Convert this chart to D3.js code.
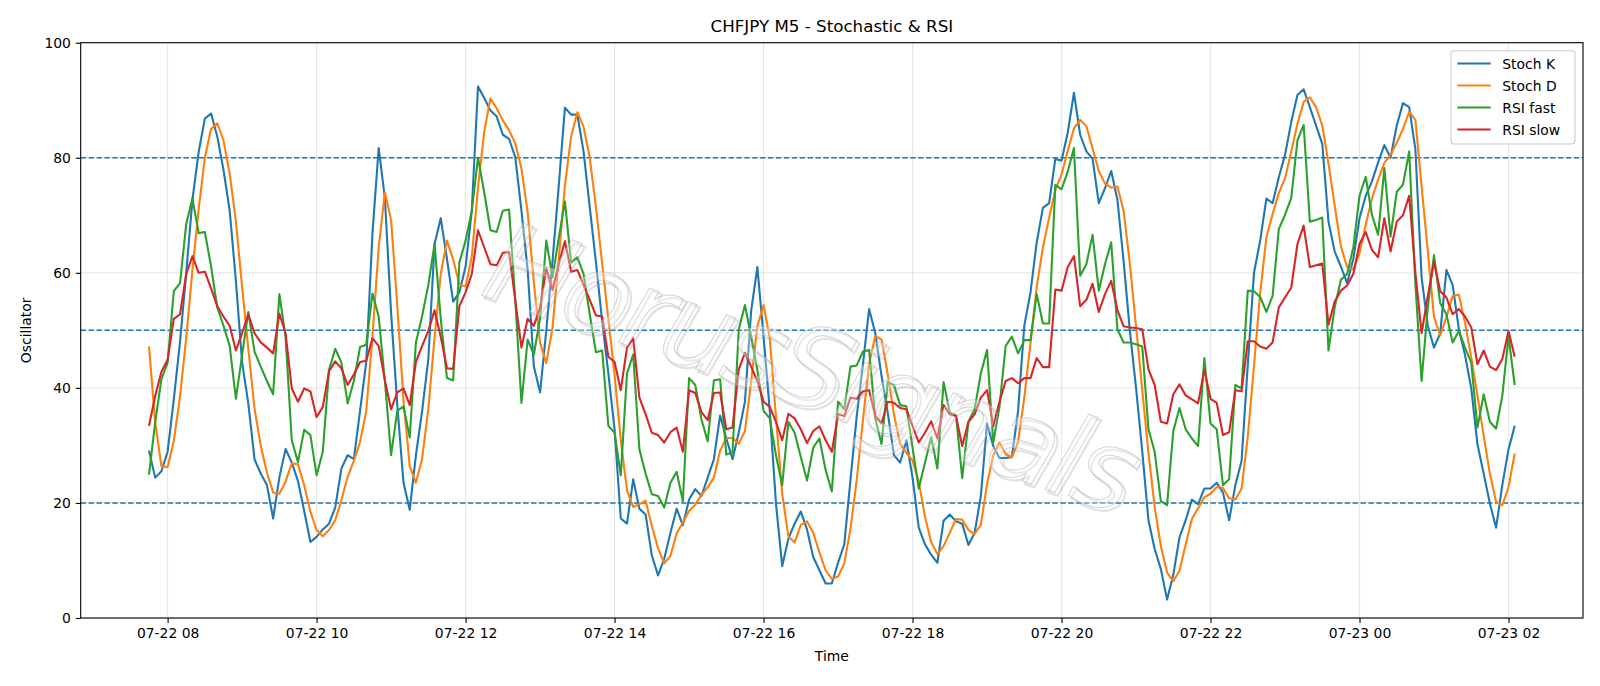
<!DOCTYPE html>
<html>
<head>
<meta charset="utf-8">
<script src="https://cdn.jsdelivr.net/npm/d3@7"></script>
<style>
  body { margin: 0; background: #fff; }
  text { font-family: "DejaVu Sans", sans-serif; }
</style>
</head>
<body>
<div id="chart"></div>
<script>
// M5 bars, 07-22 07:45 -> 07-23 02:05
const barStart = Date.UTC(2025, 6, 22, 7, 45);
const barMinutes = 5;

const stochK = [
  29.1, 24.4, 25.5, 28.9, 38, 48, 60, 72.7, 81, 86.8,
  87.7, 83.7, 77.9, 70.8, 58.6, 44.4, 37.3, 27.6, 25.1, 23.1,
  17.3, 24.4, 29.4, 27, 23.8, 18.6, 13.2, 14.1, 15.4, 16.4,
  19.2, 26, 28.3, 27.6, 36, 44.5, 66.9, 81.7, 73, 53,
  37, 23.5, 18.8, 28.3, 36, 45, 65, 69.5, 62.4, 55,
  56.6, 61.1, 70.8, 92.4, 90.4, 88.2, 87.2, 84, 83.3, 80.1,
  70.8, 60.5, 43.7, 39.2, 50, 62, 75, 88.7, 87.5, 87.5,
  81.1, 71.4, 61.8, 51.5, 42.5, 32.8, 17.3, 16.4, 24.1, 19,
  18, 10.9, 7.4, 10.3, 14.8, 19, 16.1, 20.6, 22.4, 21.2,
  24.4, 27.6, 35.2, 31.2, 27.6, 32.2, 37.6, 53.4, 61, 48.9,
  36, 19.9, 9, 13.8, 16.4, 18.5, 15.4, 10.6, 8.3, 6,
  6, 9.6, 12.8, 24, 35, 44, 53.7, 49.5, 42.1, 35.7,
  28.3, 27, 30.9, 24.4, 15.7, 12.8, 11, 9.6, 16.9, 18,
  16.8, 16.4, 12.7, 14.8, 21.2, 33.8, 29.9, 27.8, 27.8, 28,
  36, 50.8, 56.6, 65.3, 71.3, 72.1, 79.8, 79.5, 84.4, 91.3,
  84, 81.1, 79.8, 72.1, 74.7, 77.7, 72.7, 62, 50, 40,
  29, 17, 12, 8.5, 3.2, 7.5, 14, 17, 20.6, 19.8,
  22.5, 22.5, 23.5, 21.8, 17, 23.1, 27.3, 44, 60, 65.6,
  72.9, 72.1, 76.6, 80.5, 86.2, 90.9, 91.9, 88.8, 85.6, 82.4,
  68.9, 63.7, 61.1, 58.2, 62.4, 69.5, 73.4, 75.9, 79.2, 82.2,
  80, 85.6, 89.5, 88.8, 81.5, 59.2, 50.8, 47, 49.5, 60.5,
  57.9, 50.2, 45.7, 39.9, 30.2, 25.1, 19.9, 15.7, 23.1, 29.3,
  33.4
];

const stochD = [
  47.2, 34, 26.4, 26.2, 30.8, 38.5, 48.7, 60.5, 71, 80,
  85, 86, 83, 77.2, 69, 57.5, 46.8, 36.4, 30, 25.3,
  21.8, 21.6, 23.7, 26.9, 26.7, 23.1, 18.5, 15.3, 14.2, 15.3,
  17, 20.5, 24.5, 27.3, 30.6, 36, 49, 64.4, 74, 69.2,
  54.3, 37.8, 26.4, 23.5, 27.7, 36.4, 48.7, 59.8, 65.6, 62.3,
  58, 57.6, 62.8, 74.8, 84.5, 90.3, 88.6, 86.5, 84.8, 82.5,
  78.1, 70.5, 58.3, 47.8, 44.3, 50.4, 62.3, 75.2, 83.7, 87.9,
  85.4, 80, 71.4, 61.6, 51.9, 42.3, 30.9, 22.2, 19.3, 19.8,
  20.4, 16, 12.1, 9.5, 10.8, 14.7, 16.6, 18.6, 19.7, 21.4,
  22.7, 24.4, 29.1, 31.3, 31.3, 30.3, 32.5, 41.1, 50.7, 54.4,
  48.6, 34.9, 21.6, 14.2, 13.1, 16.2, 16.8, 14.8, 11.4, 8.3,
  6.8, 7.2, 9.5, 15.5, 23.9, 34.3, 44.2, 49, 48.4, 42.4,
  35.4, 30.3, 28.7, 27.4, 23.7, 17.6, 13.2, 11.1, 12.5, 14.8,
  17.2, 17.1, 15.3, 14.6, 16.2, 23.3, 28.3, 30.5, 28.5, 27.9,
  30.6, 38.3, 47.8, 57.6, 64.4, 69.6, 74.4, 77.1, 81.2, 85.1,
  86.6, 85.5, 81.6, 77.7, 75.5, 74.8, 75, 70.8, 61.6, 50.7,
  39.7, 28.7, 19.3, 12.5, 7.9, 6.4, 8.2, 12.8, 17.2, 19.1,
  21, 21.6, 22.8, 22.6, 20.8, 20.6, 22.5, 31.5, 43.8, 56.5,
  66.2, 70.2, 73.9, 76.4, 81.1, 85.9, 89.7, 90.5, 88.8, 85.6,
  79, 71.7, 64.6, 61, 60.6, 63.4, 68.4, 72.9, 76.2, 79.1,
  80.5, 82.6, 85, 88, 86.6, 75, 63.8, 52.3, 49.1, 52.3,
  56, 56.2, 51.3, 45.3, 38.6, 31.7, 25.1, 20.2, 19.6, 22.7,
  28.6
];

const rsiFast = [
  24.9, 34, 41.5, 44.4, 56.8, 58.2, 68.5, 72.9, 66.9, 67.1,
  61.1, 54, 50.8, 47.3, 38.1, 45.7, 53.2, 46.3, 43.7, 41.2,
  38.9, 56.3, 48.9, 30.9, 27.1, 32.7, 31.8, 24.8, 28.9, 43.1,
  46.8, 44.4, 37.3, 41.2, 47.1, 47.5, 56.4, 52.4, 41.2, 28.3,
  36, 36.8, 31.4, 47.9, 52.5, 57.9, 65, 52, 41.7, 41.3,
  61.8, 65.6, 70.8, 80, 74, 67.4, 67.1, 70.8, 71, 55.3,
  37.4, 48.4, 45.8, 52.1, 65.6, 59.2, 66, 72.4, 61.8, 62.7,
  59.8, 52.8, 46.2, 46.5, 33.4, 32.2, 24.8, 42.5, 45.8, 29.3,
  25.1, 21.5, 21.2, 19.2, 23.5, 25.4, 20.3, 41.7, 40.5, 34.5,
  30.7, 41.3, 41.5, 28.4, 28.8, 50.1, 54.4, 48.9, 43.1, 36,
  34.7, 28.3, 23.1, 34.1, 32.2, 28, 23.9, 29.6, 31.2, 25.7,
  22, 37.6, 36.3, 43.7, 43.9, 46.3, 46.6, 34.7, 30.2, 41,
  40.5, 37, 36.8, 29.6, 22.5, 27, 31.4, 26, 41, 35.7,
  35.2, 24.3, 34.1, 36.3, 42.5, 46.6, 30.5, 36.7, 47.3, 48.9,
  46, 48.3, 48.3, 56.3, 51.2, 51.2, 75.3, 74.5, 77.6, 81.7,
  59.5, 61.5, 66.6, 56.9, 61.5, 65.3, 50.2, 47.9, 47.9, 47.6,
  47.2, 32.8, 28.9, 20.3, 19.6, 32.5, 36.5, 32.8, 31.2, 29.9,
  45.2, 33.8, 32.8, 23.1, 24.1, 40.5, 39.9, 56.9, 56.8, 55.8,
  53.2, 56, 67.6, 70.1, 73, 83, 85.7, 68.9, 69.2, 69.6,
  46.5, 54, 58.8, 59.8, 64.4, 73.4, 76.7, 70.1, 66.6, 78.2,
  66.3, 74.1, 75.3, 81.1, 58, 41.2, 54, 63.1, 54.7, 52.8,
  47.9, 49.9, 47, 44.4, 33.1, 38.9, 34.1, 32.9, 38.6, 48.9,
  40.5
];

const rsiSlow = [
  33.4, 38.6, 42.8, 44.9, 52, 52.8, 59.8, 62.9, 60, 60.2,
  57.3, 54.2, 52.4, 50.8, 46.5, 49.5, 52.8, 49.5, 47.9, 47,
  46, 52.9, 49.5, 39.9, 37.6, 39.9, 39.4, 34.9, 36.7, 42.9,
  44.6, 43.4, 40.5, 42.3, 44.5, 44.7, 48.6, 47.3, 41.3, 36.3,
  39.2, 39.9, 37, 44.5, 47.3, 49.9, 53.5, 48.9, 43.4, 43.3,
  54.2, 56.6, 59.8, 67.4, 64.4, 61.5, 61.3, 63.5, 63.6, 55.3,
  47, 52, 50.8, 54, 60.8, 57, 61.5, 65.5, 60.2, 60.5,
  57.9, 55.3, 52.6, 52.4, 45.4, 44.5, 39.6, 47, 48.6, 38.3,
  35.4, 32.2, 31.8, 30.5, 32.3, 33.1, 28.9, 39.6, 39.1, 35.8,
  34.4, 39.1, 39.2, 32.8, 33.1, 43.2, 46.1, 43.7, 41.2, 37.6,
  36.7, 34.1, 30.9, 35.5, 34.7, 32.8, 30.4, 32.5, 33.3, 30.9,
  28.9, 35.4, 35.1, 38.3, 38.1, 39.4, 39.6, 35.1, 33.8, 37.6,
  37.4, 36.5, 36.3, 33.4, 30.5, 32.2, 34.2, 31.2, 37, 35.4,
  35.1, 29.9, 34.1, 35.4, 38.3, 39.6, 33.4, 37.6, 41.2, 41.7,
  40.8, 41.7, 41.7, 45.2, 43.6, 43.6, 57.1, 56.9, 61, 62.9,
  54.2, 55.3, 58.1, 53.2, 56.3, 58.6, 53.5, 50.7, 50.5, 50.4,
  50.2, 43.2, 40.5, 34.1, 33.8, 38.9, 40.6, 38.7, 38, 37.3,
  43.2, 38.1, 37.4, 31.8, 32.3, 39.6, 39.4, 48.1, 48.1, 47.2,
  46.8, 47.9, 54, 55.7, 57.4, 65, 68.2, 61, 61.3, 61.6,
  51, 55, 56.9, 57.8, 59.8, 65, 67.1, 64, 62.7, 69.5,
  63.7, 68.9, 70, 73.4, 60, 49.5, 56, 61.9, 56.8, 55.7,
  52.8, 53.7, 52.4, 50.5, 44.1, 46.5, 43.7, 43.1, 45, 49.9,
  45.4
];

const seriesNames = ["Stoch K", "Stoch D", "RSI fast", "RSI slow"];
const seriesColors = ["#1f77b4", "#ff7f0e", "#2ca02c", "#d62728"];
const levels = [20, 50, 80];
const yTicks = [0, 20, 40, 60, 80, 100];

const width = 1600;
const height = 686;
const marginTop = 42.7;
const marginRight = 17;
const marginBottom = 68;
const marginLeft = 80.7;

const times = stochK.map((_, i) => new Date(barStart + i * barMinutes * 60000));
const series = [stochK, stochD, rsiFast, rsiSlow];

// matplotlib-like 5% x margin
const t0 = +times[0], t1 = +times[times.length - 1];
const pad = (t1 - t0) * 0.05;
const x = d3.scaleUtc()
  .domain([new Date(t0 - pad), new Date(t1 + pad)])
  .range([marginLeft, width - marginRight]);

const y = d3.scaleLinear()
  .domain([0, 100])
  .range([height - marginBottom, marginTop]);

const xTicks = d3.utcHour.every(2).range(new Date(t0), new Date(t1 + 1));

const svg = d3.select("#chart").append("svg")
  .attr("width", width)
  .attr("height", height);

svg.append("rect").attr("width", width).attr("height", height).attr("fill", "#fff");

// grid
const grid = svg.append("g").attr("stroke", "#b0b0b0").attr("stroke-opacity", 0.3).attr("stroke-width", 1.1);
grid.selectAll(".gx").data(xTicks).join("line")
  .attr("x1", d => x(d)).attr("x2", d => x(d))
  .attr("y1", marginTop).attr("y2", height - marginBottom);
grid.selectAll(".gy").data(yTicks).join("line")
  .attr("x1", marginLeft).attr("x2", width - marginRight)
  .attr("y1", d => y(d)).attr("y2", d => y(d));

// reference levels
svg.append("g").selectAll("line").data(levels).join("line")
  .attr("x1", marginLeft).attr("x2", width - marginRight)
  .attr("y1", d => y(d)).attr("y2", d => y(d))
  .attr("stroke", "#1f77b4").attr("stroke-width", 1.5)
  .attr("stroke-dasharray", "5.5,2.4");

// series
const line = d3.line().x((d, i) => x(times[i])).y(d => y(d));
const plot = svg.append("g");
series.forEach((s, k) => {
  plot.append("path")
    .attr("d", line(s))
    .attr("fill", "none")
    .attr("stroke", seriesColors[k])
    .attr("stroke-width", 2.1)
    .attr("stroke-linejoin", "round");
});

// watermark: soft shadow + thin outline
const wm = svg.append("g")
  .style("font-family", "'Liberation Sans', sans-serif")
  .style("font-style", "italic")
  .style("font-size", "112px");
wm.append("text")
  .attr("transform", "translate(816,371) rotate(19)")
  .attr("text-anchor", "middle").attr("dominant-baseline", "central")
  .attr("textLength", 680)
  .attr("fill", "none")
  .attr("stroke", "#a0a0a0").attr("stroke-opacity", 0.3).attr("stroke-width", 2.2)
  .text("HorusSignals");
wm.append("text")
  .attr("transform", "translate(813,368) rotate(19)")
  .attr("text-anchor", "middle").attr("dominant-baseline", "central")
  .attr("textLength", 680)
  .attr("fill", "#fff").attr("fill-opacity", 0.3)
  .attr("stroke", "#b8b8b8").attr("stroke-opacity", 0.6).attr("stroke-width", 1)
  .text("HorusSignals");

// axes
const xAxis = svg.append("g")
  .attr("transform", `translate(0,${height - marginBottom})`)
  .call(d3.axisBottom(x).tickValues(xTicks).tickFormat(d3.utcFormat("%m-%d %H"))
    .tickSize(4.9).tickPadding(4.9).tickSizeOuter(0));
const yAxis = svg.append("g")
  .attr("transform", `translate(${marginLeft},0)`)
  .call(d3.axisLeft(y).tickValues(yTicks).tickSize(4.9).tickPadding(4.9).tickSizeOuter(0));
[xAxis, yAxis].forEach(a => {
  a.select(".domain").remove();
  a.selectAll(".tick line").attr("stroke", "#000").attr("stroke-width", 1.1);
  a.selectAll(".tick text").attr("fill", "#000").style("font-size", "13.9px")
    .style("font-family", "'DejaVu Sans', sans-serif");
});

// frame
svg.append("rect")
  .attr("x", marginLeft).attr("y", marginTop)
  .attr("width", width - marginRight - marginLeft)
  .attr("height", height - marginBottom - marginTop)
  .attr("fill", "none").attr("stroke", "#000").attr("stroke-width", 1.1);

// labels
svg.append("text")
  .attr("x", (marginLeft + width - marginRight) / 2).attr("y", 32)
  .attr("text-anchor", "middle").style("font-size", "16.7px")
  .text("CHFJPY M5 - Stochastic & RSI");
svg.append("text")
  .attr("x", (marginLeft + width - marginRight) / 2).attr("y", 661)
  .attr("text-anchor", "middle").style("font-size", "13.9px")
  .text("Time");
svg.append("text")
  .attr("transform", `translate(26,${(marginTop + height - marginBottom) / 2}) rotate(-90)`)
  .attr("text-anchor", "middle").attr("dominant-baseline", "central")
  .style("font-size", "13.9px")
  .text("Oscillator");

// legend
const legend = svg.append("g");
legend.append("rect")
  .attr("x", 1451).attr("y", 50.7).attr("width", 124).attr("height", 93.3)
  .attr("rx", 3).attr("fill", "#fff").attr("fill-opacity", 0.8)
  .attr("stroke", "#cccccc").attr("stroke-width", 1.1);
seriesNames.forEach((name, k) => {
  const ly = 63.5 + k * 22;
  legend.append("line")
    .attr("x1", 1457.3).attr("x2", 1490.7).attr("y1", ly).attr("y2", ly)
    .attr("stroke", seriesColors[k]).attr("stroke-width", 2.1);
  legend.append("text")
    .attr("x", 1502.3).attr("y", ly).attr("dominant-baseline", "central")
    .style("font-size", "13.9px").text(name);
});
</script>
</body>
</html>
